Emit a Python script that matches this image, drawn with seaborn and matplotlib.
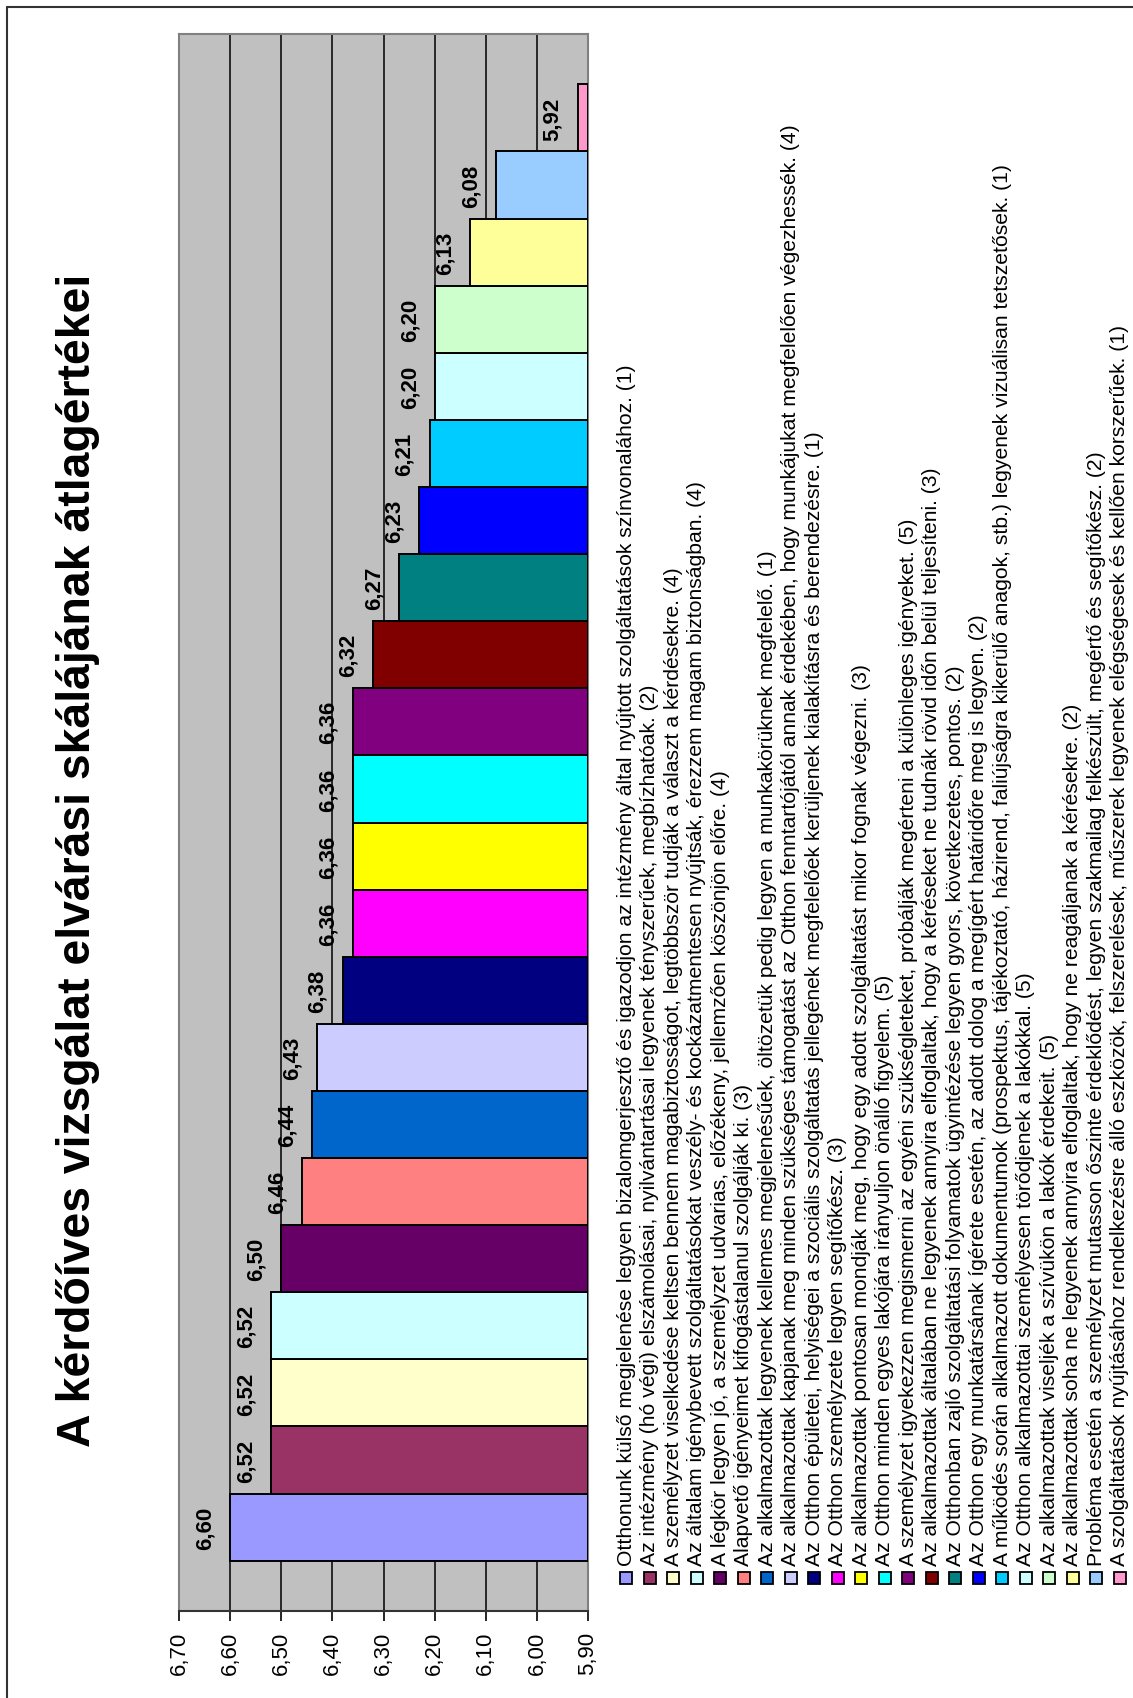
import matplotlib
matplotlib.use("Agg")
import matplotlib.pyplot as plt
import seaborn as sns
import pandas as pd
from matplotlib.patches import Rectangle
from matplotlib.lines import Line2D

# ---- data ---------------------------------------------------------------
title = "A kérdőíves vizsgálat elvárási skálájának átlagértékei"

items = [
    "Otthonunk külső megjelenése legyen bizalomgerjesztő és igazodjon az intézmény által nyújtott szolgáltatások színvonalához. (1)",
    "Az intézmény (hó végi) elszámolásai, nyilvántartásai legyenek tényszerűek, megbízhatóak. (2)",
    "A személyzet viselkedése keltsen bennem magabiztosságot, legtöbbször tudják a választ a kérdésekre. (4)",
    "Az általam igénybevett szolgáltatásokat veszély- és kockázatmentesen nyújtsák, érezzem magam biztonságban. (4)",
    "A légkör legyen jó, a személyzet udvarias, előzékeny, jellemzően köszönjön előre. (4)",
    "Alapvető igényeimet kifogástalanul szolgálják ki. (3)",
    "Az alkalmazottak legyenek kellemes megjelenésűek, öltözetük pedig legyen a munkakörüknek megfelelő. (1)",
    "Az alkalmazottak kapjanak meg minden szükséges támogatást az Otthon fenntartójától annak érdekében, hogy munkájukat megfelelően végezhessék. (4)",
    "Az Otthon épületei, helyiségei a szociális szolgáltatás jellegének megfelelőek kerüljenek kialakításra és berendezésre. (1)",
    "Az Otthon személyzete legyen segítőkész. (3)",
    "Az alkalmazottak pontosan mondják meg, hogy egy adott szolgáltatást mikor fognak végezni. (3)",
    "Az Otthon minden egyes lakójára irányuljon önálló figyelem. (5)",
    "A személyzet igyekezzen megismerni az egyéni szükségleteket, próbálják megérteni a különleges igényeket. (5)",
    "Az alkalmazottak általában ne legyenek annyira elfoglaltak, hogy a kéréseket ne tudnák rövid időn belül teljesíteni. (3)",
    "Az Otthonban zajló szolgáltatási folyamatok ügyintézése legyen gyors, következetes, pontos. (2)",
    "Az Otthon egy munkatársának ígérete esetén, az adott dolog a megígért határidőre meg is legyen. (2)",
    "A működés során alkalmazott dokumentumok (prospektus, tájékoztató, házirend, faliújságra kikerülő anagok, stb.) legyenek vizuálisan tetszetősek. (1)",
    "Az Otthon alkalmazottai személyesen törődjenek a lakókkal. (5)",
    "Az alkalmazottak viseljék a szívükön a lakók érdekeit. (5)",
    "Az alkalmazottak soha ne legyenek annyira elfoglaltak, hogy ne reagáljanak a kérésekre. (2)",
    "Probléma esetén a személyzet mutasson őszinte érdeklődést, legyen szakmailag felkészült, megértő és segítőkész. (2)",
    "A szolgáltatások nyújtásához rendelkezésre álló eszközök, felszerelések, műszerek legyenek elégségesek és kellően korszerűek. (1)",
]

means = [6.60, 6.52, 6.52, 6.52, 6.50, 6.46, 6.44, 6.43, 6.38, 6.36, 6.36,
         6.36, 6.36, 6.32, 6.27, 6.23, 6.21, 6.20, 6.20, 6.13, 6.08, 5.92]

colors = ["#9999FF", "#993366", "#FFFFCC", "#CCFFFF", "#660066", "#FF8080",
          "#0066CC", "#CCCCFF", "#000080", "#FF00FF", "#FFFF00", "#00FFFF",
          "#800080", "#800000", "#008080", "#0000FF", "#00CCFF", "#CCFFFF",
          "#CCFFCC", "#FFFF99", "#99CCFF", "#FF99CC"]

ticks = [5.90, 6.00, 6.10, 6.20, 6.30, 6.40, 6.50, 6.60, 6.70]
tick_labels = [f"{t:.2f}".replace(".", ",") for t in ticks]
axis_min, axis_max = 5.90, 6.70

# ---- figure -------------------------------------------------------------
W, H = 1133, 1699
sns.set_theme(style="white")
plt.rcParams["font.family"] = ["Liberation Sans", "DejaVu Sans"]

fig = plt.figure(figsize=(W / 100, H / 100), dpi=100)
fig.patch.set_facecolor("white")

# plot area (page is laid out sideways: values run right-to-left)
ax = fig.add_axes([179 / W, 1 - 1612 / H, (588 - 179) / W, (1612 - 35) / H])

df = pd.DataFrame({"item": items, "value": means})
sns.barplot(data=df, x="value", y="item", hue="item", palette=colors,
            orient="y", width=1.0, saturation=1, edgecolor="black",
            linewidth=1.4, legend=False, ax=ax, zorder=3)

# bars start at the axis minimum rather than at zero
for patch in ax.patches:
    end = patch.get_x() + patch.get_width()
    patch.set_x(axis_min)
    patch.set_width(end - axis_min)

ax.set_xlim(axis_max, axis_min)
ax.set_ylim(-1.25, len(items) - 1 + 1.25)
ax.set_facecolor("#C0C0C0")

ax.set_xticks(ticks)
ax.set_xticklabels(tick_labels, rotation=90, fontsize=16)
ax.tick_params(axis="x", direction="out", length=7, width=1.2,
               color="black", pad=7, bottom=True, labelcolor="black")
ax.set_yticks([])
ax.set_xlabel("")
ax.set_ylabel("")

ax.xaxis.grid(True, color="black", linewidth=1.1, zorder=0)
ax.set_axisbelow(True)
for side in ("top", "left", "right"):
    ax.spines[side].set_color("#808080")
    ax.spines[side].set_linewidth(1.5)
ax.spines["right"].set_zorder(1)
ax.spines["bottom"].set_color("#333333")
ax.spines["bottom"].set_linewidth(1.5)

# value labels next to bar ends
for i, v in enumerate(means):
    ax.annotate(f"{v:.2f}".replace(".", ","), xy=(v, i), xytext=(-18, 0),
                textcoords="offset points", rotation=90, ha="center",
                va="center", fontsize=16, fontweight="bold", color="black",
                zorder=5)

# ---- text sizing helpers -------------------------------------------------
renderer = fig.canvas.get_renderer()


def fit_size(text, target_px, **kw):
    probe = fig.text(0, 0, text, fontsize=10, rotation=90, **kw)
    length = probe.get_window_extent(renderer).height
    probe.remove()
    return 10 * target_px / length


# title
title_fs = fit_size(title, 1178, fontweight="bold")
fig.text(78 / W, 1 - 860 / H, title, rotation=90, ha="center", va="center",
         fontsize=title_fs, fontweight="bold", color="black")

# legend, one column per item, reading upwards
leg_fs = fit_size(items[7], 1443)
x0, dx = 626.2, 23.5
for i, (txt, col) in enumerate(zip(items, colors)):
    cx = x0 + dx * i
    fig.add_artist(Rectangle(((cx - 6) / W, 1 - 1585 / H), 12 / W, 12 / H,
                             transform=fig.transFigure, facecolor=col,
                             edgecolor="black", linewidth=1.3))
    fig.text(cx / W, 1 - 1566 / H, txt, rotation=90, ha="center",
             va="bottom", fontsize=leg_fs, color="black")

# page frame
fig.add_artist(Line2D([7 / W, 7 / W], [0, 1 - 8 / H], transform=fig.transFigure,
                      color="#333333", linewidth=1.5))
fig.add_artist(Line2D([7 / W, 1], [1 - 8 / H, 1 - 8 / H], transform=fig.transFigure,
                      color="#333333", linewidth=1.5))

fig.savefig("out.png", dpi=100)
